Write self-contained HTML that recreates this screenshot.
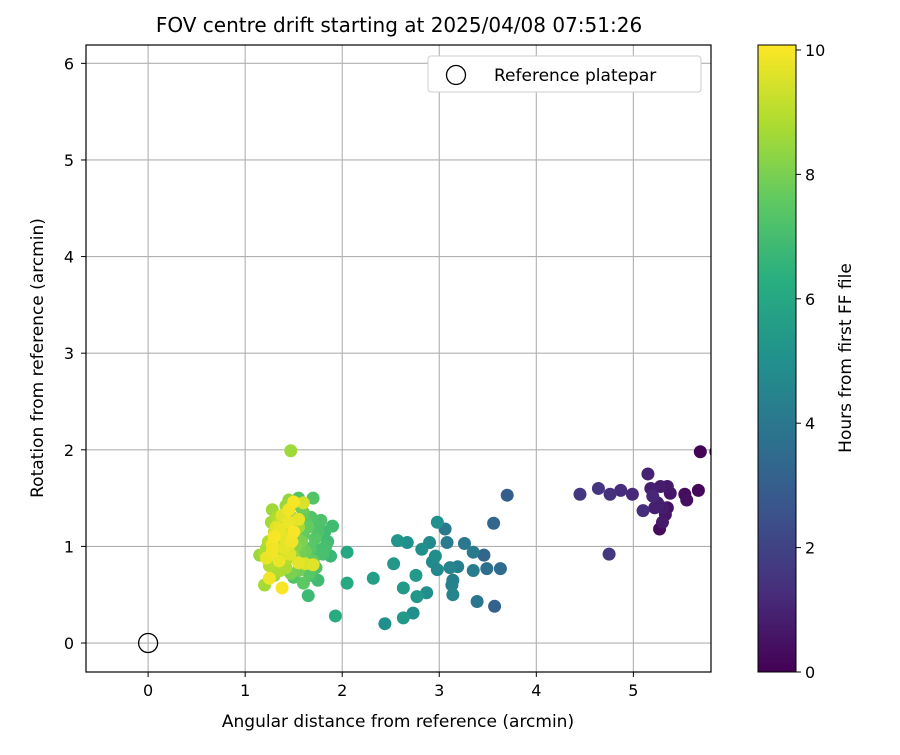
<!DOCTYPE html>
<html><head><meta charset="utf-8"><style>
body{margin:0;background:#fff;font-family:"Liberation Sans","DejaVu Sans",sans-serif}
svg text{font-family:"DejaVu Sans","Liberation Sans",sans-serif;fill:#000}
</style></head><body>
<svg id="chart" width="900" height="750" viewBox="0 0 900 750">
<defs>
<clipPath id="pc"><rect x="86" y="45" width="625" height="627"/></clipPath>
<linearGradient id="vg" x1="0" y1="1" x2="0" y2="0">
<stop offset="0" stop-color="#440154"/><stop offset="0.125" stop-color="#472d7b"/><stop offset="0.25" stop-color="#3b528b"/><stop offset="0.375" stop-color="#2c728e"/><stop offset="0.5" stop-color="#21918c"/><stop offset="0.625" stop-color="#28ae80"/><stop offset="0.75" stop-color="#5ec962"/><stop offset="0.875" stop-color="#addc30"/><stop offset="1" stop-color="#fde725"/>
</linearGradient>
</defs>
<text x="399" y="32" font-size="20" text-anchor="middle">FOV centre drift starting at 2025/04/08 07:51:26</text>
<g id="grid"></g>
<g id="pts" clip-path="url(#pc)"></g>
<rect x="86" y="45" width="625" height="627" fill="none" stroke="#000" stroke-width="1.2"/>
<g id="ticks"></g>
<text x="398" y="727" font-size="17" text-anchor="middle">Angular distance from reference (arcmin)</text>
<text x="43" y="358" font-size="17" text-anchor="middle" transform="rotate(-90 43 358)">Rotation from reference (arcmin)</text>
<g>
<rect x="428" y="56" width="273" height="36" rx="3" fill="#fff" stroke="#ccc"/>
<circle cx="456" cy="75" r="9.5" fill="none" stroke="#000" stroke-width="1.3"/>
<text x="494" y="81" font-size="17">Reference platepar</text>
</g>
<rect x="758" y="45" width="38" height="627" fill="url(#vg)" stroke="#000" stroke-width="1"/>
<g id="cbt"></g>
<text x="851" y="358" font-size="17" text-anchor="middle" transform="rotate(-90 851 358)">Hours from first FF file</text>
</svg>
<script>
const xTicks=[0,1,2,3,4,5];
const yTicks=[0,1,2,3,4,5,6];
const cbTicks=[0,2,4,6,8,10];
const xs=[5.69,5.85,5.67,5.53,5.55,4.45,4.64,4.76,4.87,4.99,5.15,5.18,5.28,5.35,5.38,5.20,5.25,5.30,5.10,5.33,5.30,5.27,5.35,5.22,4.75,
3.70,3.56,2.98,3.06,2.57,2.67,2.90,2.82,3.08,3.26,3.35,3.46,2.96,2.53,2.32,2.76,2.63,2.77,2.87,2.98,3.11,3.19,3.35,3.49,3.63,3.14,3.13,3.14,3.39,3.57,2.73,2.63,2.44,2.93,
1.93,2.05,2.05,1.65,1.75,1.88,1.90,1.78,1.70,1.83,1.80,1.72,1.65,1.60,1.55,1.68,1.60,1.75,1.85,1.62,1.70,1.58,1.55,1.50,1.47,1.45,1.28,1.20,1.15,1.20,1.25,1.35,1.40,1.30,1.45,1.35,1.55,1.50,1.42,1.62,
1.78,1.72,1.66,1.82,1.76,1.68,1.62,1.58,1.73,1.66,1.56,1.52,1.48,1.42,1.38,1.33,1.27,1.24,1.30,1.36,1.44,1.52,1.60,1.67,1.74,1.57,1.47,1.40,1.32,1.22,
1.22,1.25,1.38,1.55,1.70,1.50,1.45,1.30,1.45,1.55,1.38,1.48,1.40,1.35,1.28,1.50,1.60,1.32,1.42,1.36,1.28,1.46];
const ys=[1.98,1.98,1.58,1.54,1.48,1.54,1.60,1.54,1.58,1.54,1.75,1.60,1.62,1.62,1.55,1.52,1.45,1.40,1.37,1.33,1.25,1.18,1.40,1.40,0.92,
1.53,1.24,1.25,1.18,1.06,1.04,1.04,0.97,1.04,1.03,0.94,0.91,0.90,0.82,0.67,0.70,0.57,0.48,0.52,0.76,0.78,0.79,0.75,0.77,0.77,0.65,0.60,0.50,0.43,0.38,0.31,0.26,0.20,0.84,
0.28,0.94,0.62,0.49,0.65,0.90,1.21,1.27,1.50,1.00,0.92,1.08,1.20,1.35,1.50,0.70,0.62,1.15,1.05,0.95,0.85,1.05,0.75,0.68,1.99,1.48,1.38,0.93,0.91,0.60,0.80,1.25,1.10,1.15,1.00,0.95,1.20,0.90,0.78,0.82,
1.12,0.98,0.88,1.15,1.22,1.30,1.25,1.40,0.78,0.72,0.95,1.10,1.30,1.42,1.20,1.30,1.25,1.05,0.70,0.75,0.88,1.00,1.12,0.98,0.92,0.88,0.72,1.18,1.05,0.98,
0.88,0.67,0.57,0.83,0.81,1.46,1.38,1.10,1.25,1.28,1.32,1.05,0.98,0.85,0.95,1.15,1.45,1.20,1.08,1.18,1.02,0.92];
const hours=[0.1,0.05,0.2,0.3,0.4,1.6,1.5,1.4,1.3,1.2,1.0,0.9,0.8,0.7,0.6,1.1,0.9,0.8,1.3,0.6,0.7,0.3,0.5,0.9,1.6,
3.0,3.3,5.0,4.0,5.2,5.0,4.8,5.0,4.2,4.0,4.1,3.3,4.9,5.3,5.6,5.4,5.4,5.3,5.0,4.7,4.5,4.3,4.2,3.7,3.5,4.3,4.4,4.5,3.9,3.2,5.0,5.4,5.0,4.7,
6.2,6.0,6.1,6.8,6.9,6.7,6.9,7.2,7.3,7.0,7.1,7.4,7.6,7.7,7.3,7.0,7.5,7.2,6.9,7.8,7.6,8.0,7.9,7.3,8.6,8.4,8.6,8.8,8.5,8.7,8.9,9.0,9.2,9.3,9.1,9.0,8.7,8.5,8.8,9.5,
6.8,7.0,7.2,6.9,7.1,7.3,7.5,7.8,7.2,7.4,7.9,8.1,8.3,8.5,8.6,8.8,8.7,8.9,8.6,8.8,8.9,8.2,7.6,7.4,7.1,7.9,8.0,9.1,9.2,8.8,
9.8,9.9,10.0,9.7,9.6,10.0,9.9,10.0,9.8,9.7,9.6,9.9,9.7,9.8,9.9,10.0,9.5,9.6,9.7,9.8,9.9,9.6];
const xMin=-0.64,xMax=5.80,yMin=-0.30,yMax=6.19,cMax=10.08;
const L=86,R=711,T=45,B=672;
const sx=v=>L+(v-xMin)/(xMax-xMin)*(R-L);
const sy=v=>B-(v-yMin)/(yMax-yMin)*(B-T);
const cy=v=>672-v/cMax*627;
const vir=["#440154","#472d7b","#3b528b","#2c728e","#21918c","#28ae80","#5ec962","#addc30","#fde725"];
function hx(c){return [1,3,5].map(i=>parseInt(c.substr(i,2),16));}
function color(h){let t=Math.max(0,Math.min(1,h/cMax))*8;let i=Math.min(7,Math.floor(t)),f=t-i;let a=hx(vir[i]),b=hx(vir[i+1]);return "rgb("+a.map((v,k)=>Math.round(v+(b[k]-v)*f)).join(",")+")";}
const NS="http://www.w3.org/2000/svg";
function mk(tag,attrs,parent){const e=document.createElementNS(NS,tag);for(const k in attrs)e.setAttribute(k,attrs[k]);parent.appendChild(e);return e;}
const grid=document.getElementById('grid'),ticks=document.getElementById('ticks'),pts=document.getElementById('pts'),cbt=document.getElementById('cbt');
xTicks.forEach(v=>{const x=sx(v);
const g=mk('line',{x1:x,x2:x,y1:T,y2:B,stroke:'#b0b0b0','stroke-width':1.1},grid);


const t=mk('line',{x1:x,x2:x,y1:B,y2:B+5,stroke:'#000'},ticks);


const l=mk('text',{x:x,y:B+24,'font-size':16,'text-anchor':'middle'},ticks);l.textContent=v;

});
yTicks.forEach(v=>{const y=sy(v);
const g=mk('line',{x1:L,x2:R,y1:y,y2:y,stroke:'#b0b0b0','stroke-width':1.1},grid);


const t=mk('line',{x1:L-5,x2:L,y1:y,y2:y,stroke:'#000'},ticks);


const l=mk('text',{x:L-12,y:y+6,'font-size':16,'text-anchor':'end'},ticks);l.textContent=v;

});
const order=hours.map((h,i)=>i).sort((a,b)=>hours[a]-hours[b]);
order.forEach(i=>{const c=mk('circle',{cx:sx(xs[i]),cy:sy(ys[i]),r:6.5,fill:color(hours[i])},pts);

});
const ref=mk('circle',{cx:sx(0),cy:sy(0),r:9.5,fill:'none',stroke:'#000','stroke-width':1.3},pts);


cbTicks.forEach(v=>{const y=cy(v);
const t=mk('line',{x1:796,x2:801,y1:y,y2:y,stroke:'#000'},cbt);


const l=mk('text',{x:805,y:y+6,'font-size':16},cbt);l.textContent=v;

});
</script>
</body></html>
